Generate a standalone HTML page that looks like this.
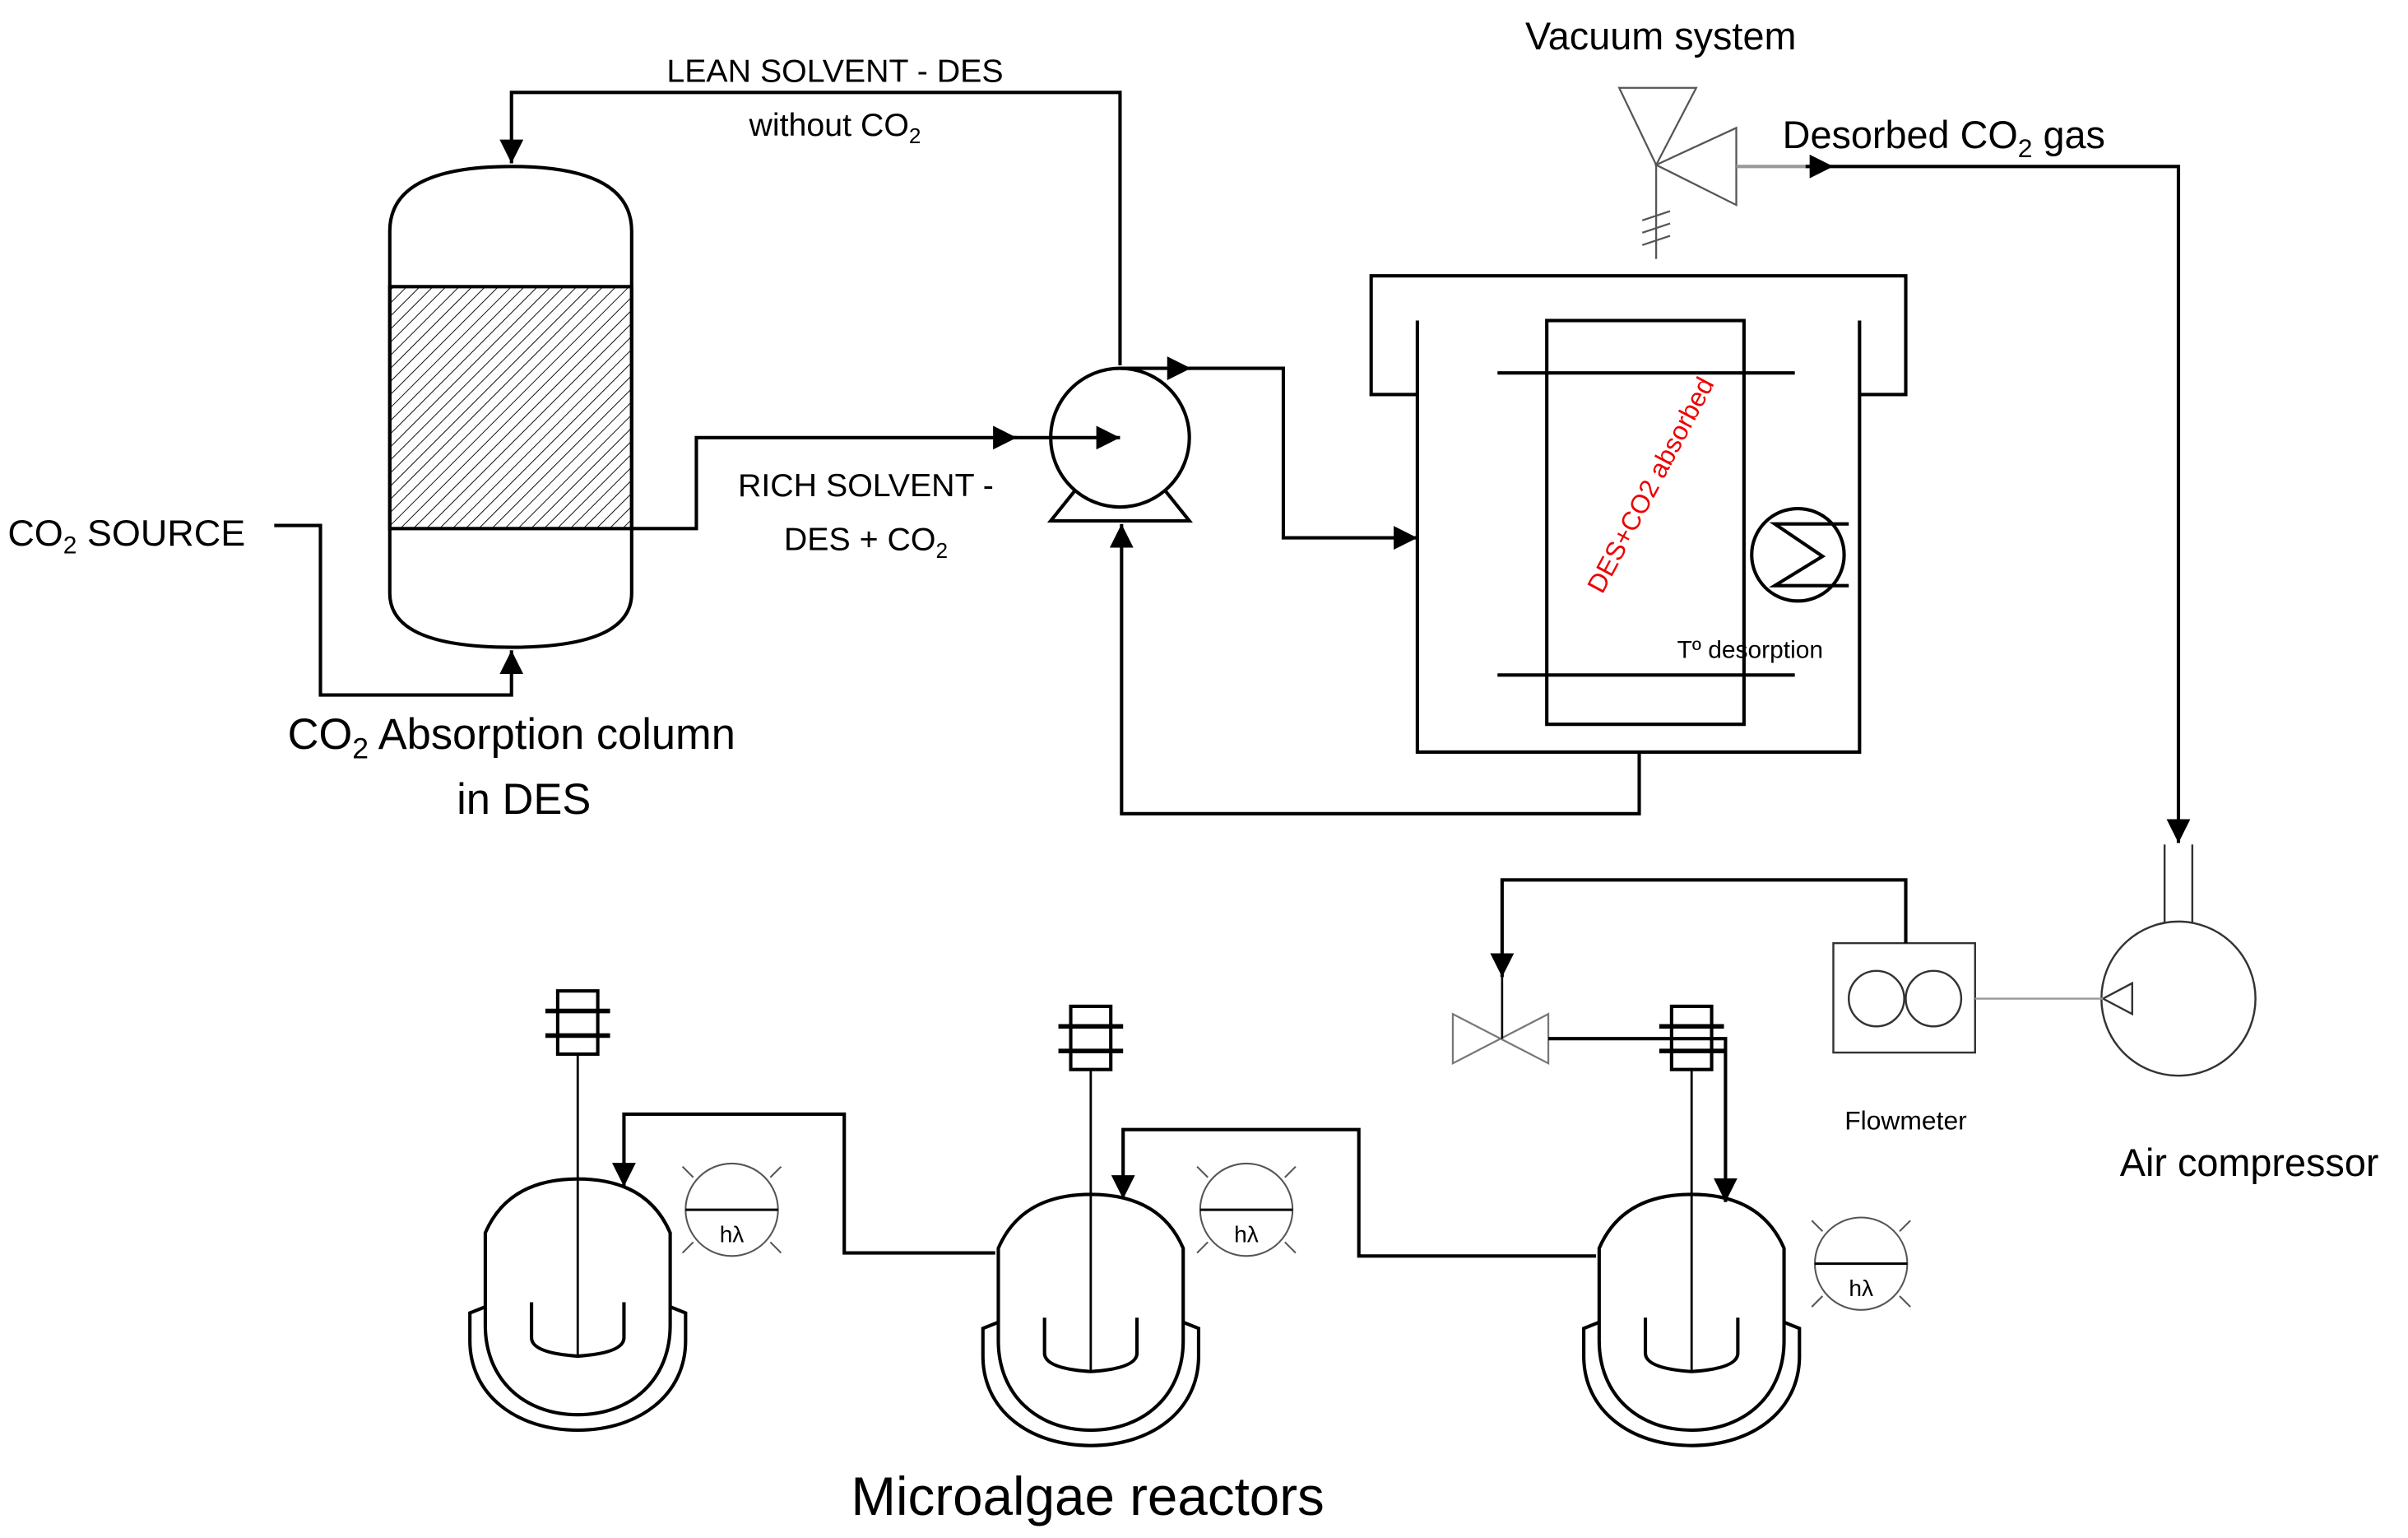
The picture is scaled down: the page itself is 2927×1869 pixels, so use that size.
<!DOCTYPE html>
<html><head><meta charset="utf-8"><style>html,body{margin:0;padding:0;background:#fff}svg{display:block}</style></head>
<body>
<svg width="2927" height="1869" viewBox="0 0 1563 998" preserveAspectRatio="none" xmlns="http://www.w3.org/2000/svg" font-family="Liberation Sans, sans-serif">
<defs>
<pattern id="h" width="6" height="6" patternUnits="userSpaceOnUse" patternTransform="rotate(45)"><line x1="0" y1="0" x2="0" y2="6" stroke="#000" stroke-width="1"/></pattern>
<marker id="a" viewBox="0 0 10 10" refX="10" refY="5" markerWidth="7" markerHeight="7" orient="auto" markerUnits="strokeWidth"><path d="M0,0 L10,5 L0,10z" fill="#000"/></marker>
</defs>
<g fill="none" stroke="#000" stroke-width="2.2">
<!-- column -->
<path d="M253,150 Q253,108 332,108 Q410,108 410,150 L410,385 Q410,420 332,420 Q253,420 253,385 Z"/>
<rect x="253" y="186" width="157" height="157" fill="url(#h)"/>
<path d="M727,237 L727,60 L332,60 L332,106" marker-end="url(#a)"/>
<path d="M178,341 L208,341 L208,451 L332,451 L332,422" marker-end="url(#a)"/>
<path d="M410,343 L452,343 L452,284 L660,284" marker-end="url(#a)"/>
<path d="M650,284 L727,284" marker-end="url(#a)"/>
<!-- pump -->
<circle cx="727" cy="284" r="45" fill="none"/>
<path d="M698,318 L682,338 L772,338 L756,318"/>
<path d="M727,239 L773,239" marker-end="url(#a)"/>
<path d="M765,239 L833,239 L833,349 L920,349" marker-end="url(#a)"/>
<path d="M1064,488 L1064,528 L728,528 L728,340" marker-end="url(#a)"/>
<!-- desorber -->
<path d="M920,256 L890,256 L890,179 L1237,179 L1237,256 L1207,256"/>
<path d="M920,208 L920,488 L1207,488 L1207,208"/>
<rect x="1004" y="208" width="128" height="262"/>
<line x1="972" y1="242" x2="1165" y2="242"/>
<line x1="972" y1="438" x2="1165" y2="438"/>
<ellipse cx="1167" cy="360" rx="30" ry="30"/>
<path d="M1200,340 L1152,340 L1183,361 L1152,380 L1200,380"/>
<!-- vacuum -->
<g stroke="#555" stroke-width="1.2">
<path d="M1051,57 L1101,57 L1075,107 Z"/>
<path d="M1075,107 L1127,83 L1127,133 Z"/>
<line x1="1075" y1="107" x2="1075" y2="168"/>
<line x1="1066" y1="143" x2="1084" y2="137"/><line x1="1066" y1="151" x2="1084" y2="145"/><line x1="1066" y1="159" x2="1084" y2="153"/>
</g>
<line x1="1127" y1="108" x2="1175" y2="108" stroke="#999"/>
<path d="M1172,108 L1190,108" marker-end="url(#a)"/>
<path d="M1190,108 L1414,108 L1414,547" marker-end="url(#a)"/>
<!-- compressor -->
<g stroke="#333" stroke-width="1.3">
<circle cx="1414" cy="648" r="50"/>
<line x1="1405" y1="548" x2="1405" y2="599"/><line x1="1423" y1="548" x2="1423" y2="599"/>
<path d="M1365,648 L1384,638 L1384,658 Z"/>
<rect x="1190" y="612" width="92" height="71"/>
<circle cx="1218" cy="648" r="18"/><circle cx="1255" cy="648" r="18"/>
</g>
<line x1="1282" y1="648" x2="1365" y2="648" stroke="#999" stroke-width="1.3"/>
<path d="M1237,612 L1237,571 L975,571 L975,634" marker-end="url(#a)"/>
<path d="M943,658 L1005,690 L1005,658 L943,690 Z" stroke="#777" stroke-width="1.2"/>
<line x1="975" y1="634" x2="975" y2="674" stroke-width="1.4"/>
<path d="M1005,674 L1120,674 L1120,780" marker-end="url(#a)"/>
<!-- reactors -->
<g id="r">
<path d="M315,800 Q330,765 375,765 Q420,765 435,800 L435,860 C435,895 410,918 375,918 C340,918 315,895 315,860 Z"/>
<path d="M315,848 L305,852 L305,870 C305,905 335,928 375,928 C415,928 445,905 445,870 L445,852 L435,848"/>
<path d="M345,845 L345,868 Q345,878 375,880 Q405,878 405,868 L405,845"/>
<line x1="375" y1="684" x2="375" y2="880" stroke-width="1.5"/>
<rect x="362" y="643" width="26" height="41"/>
<line x1="354" y1="656" x2="396" y2="656" stroke-width="3"/>
<line x1="354" y1="672" x2="396" y2="672" stroke-width="3"/>
</g>
<use href="#r" transform="translate(333,10)"/>
<use href="#r" transform="translate(723,10)"/>
<path d="M646,813 L548,813 L548,723 L405,723 L405,770" marker-end="url(#a)"/>
<path d="M1036,815 L882,815 L882,733 L729,733 L729,778" marker-end="url(#a)"/>
<g stroke="#555" stroke-width="1.1">
<g id="l"><circle cx="475" cy="785" r="30"/><line x1="445" y1="785" x2="505" y2="785" stroke="#000" stroke-width="1.6"/>
<line x1="443" y1="757" x2="450" y2="764"/><line x1="507" y1="757" x2="500" y2="764"/><line x1="443" y1="813" x2="450" y2="806"/><line x1="507" y1="813" x2="500" y2="806"/></g>
<use href="#l" transform="translate(334,0)"/>
<use href="#l" transform="translate(733,35)"/>
</g>
</g>
<g fill="#000">
<text x="542" y="53" font-size="21" text-anchor="middle">LEAN SOLVENT  - DES</text>
<text x="542" y="88" font-size="21" text-anchor="middle">without CO<tspan font-size="14" dy="5">2</tspan></text>
<text x="562" y="322" font-size="21" text-anchor="middle">RICH SOLVENT -</text>
<text x="562" y="357" font-size="21" text-anchor="middle">DES + CO<tspan font-size="14" dy="5">2</tspan></text>
<text x="5" y="354" font-size="24">CO<tspan font-size="16" dy="5">2</tspan><tspan dy="-5"> SOURCE</tspan></text>
<text x="332" y="486" font-size="28" text-anchor="middle">CO<tspan font-size="19" dy="6">2</tspan><tspan dy="-6"> Absorption column</tspan></text>
<text x="340" y="528" font-size="28" text-anchor="middle">in DES</text>
<text x="1078" y="32" font-size="25" text-anchor="middle">Vacuum system</text>
<text x="1157" y="96" font-size="25">Desorbed CO<tspan font-size="17" dy="6">2</tspan><tspan dy="-6"> gas</tspan></text>
<text x="1136" y="427" font-size="16" text-anchor="middle">Tº desorption</text>
<text x="0" y="0" font-size="17" fill="#e00" transform="translate(1040,386) rotate(-62)">DES+CO2 absorbed</text>
<text x="1237" y="733" font-size="17" text-anchor="middle">Flowmeter</text>
<text x="1460" y="763" font-size="25" text-anchor="middle">Air compressor</text>
<text x="706" y="983" font-size="35" text-anchor="middle">Microalgae reactors</text>
<text x="475" y="806" font-size="15" text-anchor="middle">hλ</text>
<text x="809" y="806" font-size="15" text-anchor="middle">hλ</text>
<text x="1208" y="841" font-size="15" text-anchor="middle">hλ</text>
</g>
</svg>
</body></html>
